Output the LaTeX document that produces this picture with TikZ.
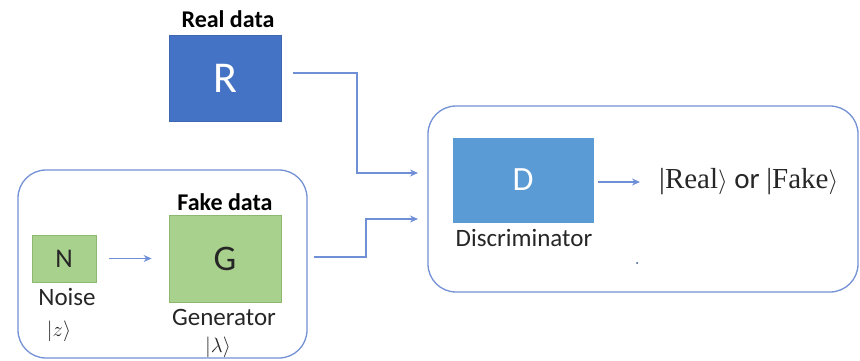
\documentclass[tikz,border=0pt]{standalone}
\usepackage{fontspec}
\setmainfont{Carlito}
\newfontfamily\serifket{Liberation Serif}
\usetikzlibrary{arrows.meta}
\definecolor{rblue}{HTML}{4472C4}
\definecolor{dblue}{HTML}{5B9BD5}
\definecolor{lgreen}{HTML}{A9D18E}
\definecolor{gborder}{HTML}{8DB86F}
\definecolor{lineblue}{HTML}{6F8FD6}
\definecolor{frameblue}{HTML}{7391D4}
\definecolor{txt}{HTML}{262626}
\tikzset{
  boxr/.style={draw=rblue!90!black, fill=rblue, text=white, minimum width=112pt, minimum height=86pt, inner sep=0pt, line width=0.8pt},
  boxd/.style={draw=dblue, fill=dblue, text=white, minimum width=140pt, minimum height=84pt, inner sep=0pt},
  boxg/.style={draw=gborder, fill=lgreen, text=txt, inner sep=0pt, line width=0.8pt},
  frame/.style={draw=frameblue, line width=1.3pt, rounded corners=28pt, fill=none, inner sep=0pt},
  arr/.style={draw=lineblue, line width=1.1pt, -{Stealth[length=8pt,width=7pt]}},
  lbl/.style={text=txt, inner sep=0pt, font=\fontsize{25}{28}\selectfont},
  ket/.style={text=txt, inner sep=0pt, font=\fontsize{22}{24}\selectfont},
  ttl/.style={text=black, inner sep=0pt, font=\fontsize{24}{28}\selectfont\bfseries},
}
\begin{document}
\begin{tikzpicture}[x=1pt,y=-1pt]
\useasboundingbox (0,0) rectangle (860,361);
% frames
\node[frame, minimum width=289pt, minimum height=188pt] (lframe) at (162.5,264) {};
\node[frame, minimum width=430pt, minimum height=186pt] (rframe) at (643,199) {};
% Real data
\node[ttl] (realt) at (228,19) {Real data};
\node[boxr, font=\fontsize{44}{48}\selectfont] (R) at (225,78) {R};
% Generator side
\node[boxg, minimum width=64pt, minimum height=47pt, font=\fontsize{27}{30}\selectfont] (N) at (64,258.5) {N};
\node[lbl] (noise) at (67,297) {Noise};
\node[ket] (zket) at (59,331) {$|z\rangle$};
\node[ttl] (faket) at (225,202) {Fake data};
\node[boxg, minimum width=112pt, minimum height=87pt, font=\fontsize{36}{40}\selectfont] (G) at (225,258.5) {G};
\node[lbl] (gen) at (224,317.5) {Generator};
\node[ket] (lket) at (218,347) {$|\lambda\rangle$};
% Discriminator
\node[boxd, font=\fontsize{34}{38}\selectfont] (D) at (523,180) {D};
\node[lbl] (disc) at (524,238) {Discriminator};
\node[lbl, anchor=west, font=\fontsize{29}{32}\selectfont] (out) at (659,182) {{\serifket |Real}$\rangle$ or {\serifket |Fake}$\rangle$};
\fill[rblue!70!black] (637,263) circle (1pt);
% connectors
\coordinate (in1) at (418,173);
\coordinate (in2) at (418,219);
\draw[arr] ([shift={(12,-5)}]R.east) -| (357,173) -- (in1);
\draw[arr] ([shift={(6,-7)}]lframe.east) -- (366,257) |- (in2);
\draw[arr, shorten <=13pt, shorten >=17pt] (N.east) -- (G.west);
\draw[arr, shorten <=5pt] (D.east |- 0,182) -- (640,182);
\end{tikzpicture}
\end{document}
